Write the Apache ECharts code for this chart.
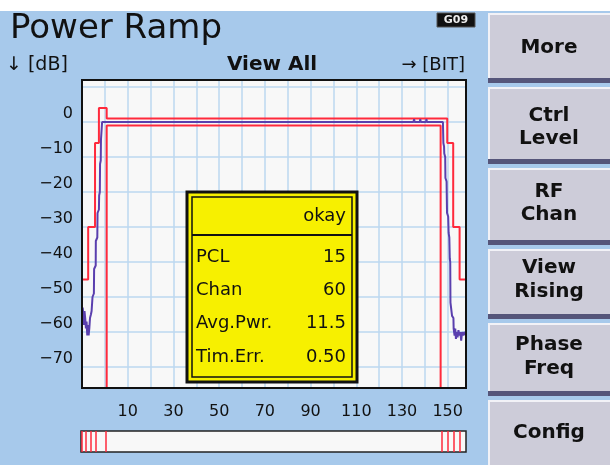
<!DOCTYPE html>
<html><head><meta charset="utf-8">
<script src="https://cdn.jsdelivr.net/npm/echarts@6/dist/echarts.min.js"></script>
<style>html,body{margin:0;padding:0;background:#fff}#c{width:610px;height:465px}</style>
</head><body><div id="c"></div>
<script>
// ---- data ----
const yTickValues = [10, 0, -10, -20, -30, -40, -50, -60, -70];
const yLabelValues = [0, -10, -20, -30, -40, -50, -60, -70];
const xLabelValues = [10, 30, 50, 70, 90, 110, 130, 150];
const upperMask = [[-10,-45],[-7.3,-30],[-4.3,-6],[-2.6,4],[0.8,1],[149.8,-6],[152.4,-30],[155.2,-45],[158,-45]];
const lowerMask = [[0.8,-80],[0.8,-1],[146.9,-1],[146.9,-80]];
const powerTrace = [
  [-10,-56],[-9.7,-53],[-9.4,-55],[-9.2,-58],[-8.9,-54],[-8.6,-56],[-8.3,-59],[-8.0,-57],[-7.7,-61],[-7.4,-58],
  [-7.1,-61],[-6.8,-59],[-6.5,-56],[-6.1,-55],[-5.8,-54],[-5.5,-54],[-5.4,-50],[-4.8,-49],[-4.7,-42],[-4.0,-41],
  [-3.95,-34],[-3.3,-33],[-3.2,-26],[-2.6,-25],[-2.5,-21],[-2.2,-20],[-2.1,-12],[-1.8,-11],[-1.7,-5],[-1.3,-5],
  [-1.2,0],[30,0],[60,0],[90,0],[120,0],[135,0],[135.3,0.8],[135.5,0],[137.8,0],[138,0.8],[138.2,0],[140.5,0],
  [140.7,0.8],[140.9,0],[147.9,0],[148.1,-6],[148.4,-7],[148.5,-9],[148.9,-10],[149.0,-16],[149.5,-17],[149.7,-26],
  [150.2,-27],[150.4,-31.7],[150.7,-33],[150.9,-39],[151.1,-40],[151.2,-51.6],[151.8,-52],[151.9,-55.4],[152.5,-56],
  [152.6,-59],[153.0,-61],[153.3,-59],[153.6,-62],[153.9,-60],[154.3,-61.5],[154.7,-59.5],[155.1,-61],[155.5,-60],
  [155.9,-62.5],[156.3,-60],[156.8,-61],[157.3,-60],[158,-61]
];
const barStripes = [-9.8, -7.8, -5.6, -3.4, 0.75, 147.4, 150, 152.6, 155.3];
const infoStatus = 'okay';
const infoLabels = ['PCL', 'Chan', 'Avg.Pwr.', 'Tim.Err.'];
const infoValues = ['15', '60', '11.5', '0.50'];
const softkeys = [['More'], ['Ctrl', 'Level'], ['RF', 'Chan'], ['View', 'Rising'], ['Phase', 'Freq'], ['Config']];

// ---- layout / styling ----
const FONT = '"DejaVu Sans", Verdana, sans-serif';
const RED = '#ff2a3c';
const BLUE = '#5a3fae';
const GRIDC = '#bcd8f0';

const graphics = [];
graphics.push({type:'rect', shape:{x:0,y:0,width:610,height:11}, style:{fill:'#ffffff'}, z:1});
graphics.push({type:'text', style:{text:'Power Ramp', x:10, y:29, font:'34px ' + FONT, fill:'#111', textVerticalAlign:'middle'}, z:10});
graphics.push({type:'rect', shape:{x:437,y:13,width:38,height:14}, style:{fill:'#111', stroke:'#555', lineWidth:1}, z:10});
graphics.push({type:'text', style:{text:'G09', x:456, y:20.5, font:'bold 11px ' + FONT, fill:'#eee', textAlign:'center', textVerticalAlign:'middle'}, z:11});
graphics.push({type:'text', style:{text:'\u2193 [dB]', x:6, y:65, font:'19px ' + FONT, fill:'#111', textVerticalAlign:'middle'}, z:10});
graphics.push({type:'text', style:{text:'View All', x:272, y:65, font:'bold 20px ' + FONT, fill:'#111', textAlign:'center', textVerticalAlign:'middle'}, z:10});
graphics.push({type:'text', style:{text:'\u2192 [BIT]', x:465, y:65, font:'18px ' + FONT, fill:'#111', textAlign:'right', textVerticalAlign:'middle'}, z:10});
// plot frame drawn above grid lines
graphics.push({type:'rect', shape:{x:82,y:80,width:384,height:308}, style:{fill:'none', stroke:'#111', lineWidth:2}, z:20});

// info box
const bx = 187, by = 192, bw = 170, bh = 190;
graphics.push({type:'rect', shape:{x:bx,y:by,width:bw,height:bh}, style:{fill:'#f7f000', stroke:'#111', lineWidth:3}, z:50});
graphics.push({type:'rect', shape:{x:bx+5,y:by+5,width:bw-10,height:bh-10}, style:{fill:'none', stroke:'#111', lineWidth:1.5}, z:51});
graphics.push({type:'line', shape:{x1:bx+5,y1:235,x2:bx+bw-5,y2:235}, style:{stroke:'#111', lineWidth:2}, z:51});
graphics.push({type:'text', style:{text:infoStatus, x:346, y:216, font:'18px ' + FONT, fill:'#111', textAlign:'right', textVerticalAlign:'middle'}, z:52});
const rowY = [257, 290, 323, 357];
infoLabels.forEach((t, i) => {
  graphics.push({type:'text', style:{text:t, x:196, y:rowY[i], font:'18px ' + FONT, fill:'#111', textVerticalAlign:'middle'}, z:52});
  graphics.push({type:'text', style:{text:infoValues[i], x:346, y:rowY[i], font:'18px ' + FONT, fill:'#111', textAlign:'right', textVerticalAlign:'middle'}, z:52});
});

// softkeys
const keyBoxes = [[13,83],[87,164],[168,245],[249,319],[323,396],[400,470]];
const keyTextY = [[48],[116,139],[192,215],[268,292],[345,369],[433]];
softkeys.forEach((lines, i) => {
  const [t, b] = keyBoxes[i];
  graphics.push({type:'rect', shape:{x:488,y:t,width:125,height:b-t}, style:{fill:'#cdccd9'}, z:5});
  graphics.push({type:'rect', shape:{x:488,y:t,width:125,height:2}, style:{fill:'#f2f2f7'}, z:6});
  graphics.push({type:'rect', shape:{x:488,y:t,width:2,height:b-t}, style:{fill:'#f2f2f7'}, z:6});
  graphics.push({type:'rect', shape:{x:488,y:b-5,width:125,height:5}, style:{fill:'#55557a'}, z:6});
  lines.forEach((ln, j) => {
    graphics.push({type:'text', style:{text:ln, x:549, y:keyTextY[i][j], font:'bold 20px ' + FONT, fill:'#111', textAlign:'center', textVerticalAlign:'middle'}, z:7});
  });
});

const chart = echarts.init(document.getElementById('c'), null, {renderer:'canvas'});
chart.setOption({
  animation: false,
  backgroundColor: '#a7c9eb',
  grid: [
    {left:82, top:80, width:384, height:308, show:true, backgroundColor:'#f8f8f8', borderColor:'#111', borderWidth:2},
    {left:81, top:431, width:385, height:21, show:true, backgroundColor:'#f8f8f8', borderColor:'#222', borderWidth:1.5}
  ],
  xAxis: [
    {type:'value', gridIndex:0, min:-10, max:158, interval:10,
     axisLine:{show:false}, axisTick:{show:false},
     splitLine:{show:true, lineStyle:{color:GRIDC, width:1.5}},
     axisLabel:{margin:16, fontSize:16, fontFamily:FONT, color:'#111',
       formatter: v => (xLabelValues.indexOf(v) >= 0 ? String(v) : '')}},
    {type:'value', gridIndex:1, min:-10, max:158, show:false}
  ],
  yAxis: [
    {type:'value', gridIndex:0, min:-76, max:12,
     axisLine:{show:false}, axisTick:{show:false, customValues:yTickValues},
     splitLine:{show:true, lineStyle:{color:GRIDC, width:1.5}},
     axisLabel:{customValues:yLabelValues, margin:9, fontSize:16, fontFamily:FONT, color:'#111',
       verticalAlign:'bottom', lineHeight:16,
       formatter: v => String(v).replace('-', '\u2212')}},
    {type:'value', gridIndex:1, min:0, max:1, show:false}
  ],
  series: [
    {type:'line', name:'upper', xAxisIndex:0, yAxisIndex:0, data:upperMask, step:'end', symbol:'none', clip:true,
     lineStyle:{color:RED, width:2}, z:3},
    {type:'line', name:'lower', xAxisIndex:0, yAxisIndex:0, data:lowerMask, symbol:'none', clip:true,
     lineStyle:{color:RED, width:2}, z:3},
    {type:'line', name:'trace', xAxisIndex:0, yAxisIndex:0, data:powerTrace, symbol:'none', clip:true,
     lineStyle:{color:BLUE, width:2}, z:4},
    {type:'scatter', name:'bar', xAxisIndex:1, yAxisIndex:1, data:[[-10,0]], symbolSize:0, silent:true,
     markLine:{silent:true, symbol:['none','none'], label:{show:false},
       lineStyle:{color:RED, width:1.5, type:'solid'},
       data: barStripes.map(v => ({xAxis:v}))}}
  ],
  graphic: graphics
});
</script></body></html>
